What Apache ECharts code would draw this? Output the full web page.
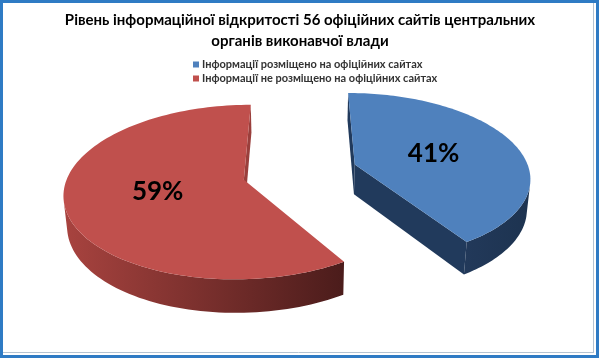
<!DOCTYPE html>
<html><head><meta charset="utf-8">
<script src="https://cdn.jsdelivr.net/npm/echarts@6/dist/echarts.min.js"></script>
<style>html,body{margin:0;padding:0;background:#fff}#c{width:600px;height:359px}</style>
</head><body><div id="c"></div>
<script>
const categories = ['Інформації розміщено на офіційних сайтах', 'Інформації не розміщено на офіційних сайтах'];
const values = [41, 59];
const labels = ['41%', '59%'];
const titleLines = ['Рівень інформаційної відкритості 56 офіційних сайтів центральних', 'органів виконавчої влади'];

const V = {X0: 300, Y0: 172, S: 175, SY: 174, sinP: 0.479, D: 6.3, explode: 0.33, thick: 0.2, labelR: 0.49};
V.cosP = Math.sqrt(1 - V.sinP * V.sinP);
const cam = [0, V.D * V.sinP, -V.D * V.cosP];
function proj(X, Y, Z) {
  const v = Z * V.sinP + Y * V.cosP;
  const w = Z * V.cosP - Y * V.sinP;
  const f = 1 + w / V.D;
  return [V.X0 + V.S * X / f, V.Y0 - V.SY * v / f];
}
const rad = d => d * Math.PI / 180;
function sliceAngles(i, val) {
  const total = values.reduce((a, b) => a + b, 0);
  let cum = 0;
  for (let k = 0; k < i; k++) cum += values[k];
  const a2 = 90 - cum / total * 360;
  const a1 = a2 - val / total * 360;
  return [a1, a2];
}
const styles = [
  {top: '#4F81BD', side: ['#22395A', '#1D3350'], cut: '#213A5C'},
  {top: '#C0504D', side: ['#A8433F', '#4B1C1B'], cut: '#9A3F3C'}
];
function makeRender(i) {
  return function (params, api) {
    const val = api.value(0);
    const [a1, a2] = sliceAngles(i, val);
    const mid = rad((a1 + a2) / 2);
    const ox = V.explode * Math.cos(mid), oz = V.explode * Math.sin(mid);
    const pt = (th, r, Y) => proj(ox + r * Math.cos(th), Y, oz + r * Math.sin(th));
    const st = styles[i];
    const children = [];
    [[a1, -1], [a2, 1]].forEach(([a, sgn]) => {
      const th = rad(a);
      const nth = th + sgn * Math.PI / 2;
      const nx = Math.cos(nth), nz = Math.sin(nth);
      const px = ox + 0.5 * Math.cos(th), pz = oz + 0.5 * Math.sin(th);
      const dot = nx * (cam[0] - px) + nz * (cam[2] - pz);
      if (dot > 0) {
        children.push({type: 'polygon', shape: {points: [pt(th, 0, 0), pt(th, 1, 0), pt(th, 1, -V.thick), pt(th, 0, -V.thick)]}, style: {fill: st.cut}});
      }
    });
    const N = 120, topArc = [], botArc = [];
    for (let k = 0; k <= N; k++) {
      const th = rad(a1 + (a2 - a1) * k / N);
      const X = ox + Math.cos(th), Z = oz + Math.sin(th);
      const dot = Math.cos(th) * (cam[0] - X) + Math.sin(th) * (cam[2] - Z);
      if (dot > 0) { topArc.push(proj(X, 0, Z)); botArc.push(proj(X, -V.thick, Z)); }
    }
    if (topArc.length > 1) {
      children.push({type: 'polygon', shape: {points: topArc.concat(botArc.slice().reverse())},
        style: {fill: new echarts.graphic.LinearGradient(0, 0, 1, 0, [{offset: 0, color: st.side[0]}, {offset: 1, color: st.side[1]}])}});
    }
    const topPts = [pt(0, 0, 0)];
    for (let k = 0; k <= N; k++) topPts.push(pt(rad(a1 + (a2 - a1) * k / N), 1, 0));
    children.push({type: 'polygon', shape: {points: topPts}, style: {fill: st.top}});
    const lp = pt(mid, V.labelR, 0);
    children.push({type: 'text', x: lp[0], y: lp[1], style: {text: labels[i], font: 'bold 26px Lato, "Open Sans", sans-serif', fill: '#000', align: 'center', verticalAlign: 'middle'}});
    return {type: 'group', children};
  };
}
const chart = echarts.init(document.getElementById('c'));
chart.setOption({
  animation: false,
  title: {text: titleLines.join('\n'), left: 'center', top: 5,
    textStyle: {fontFamily: 'Lato, "Open Sans", sans-serif', fontSize: 15, fontWeight: 'bold', color: '#000', lineHeight: 21}},
  legend: {orient: 'vertical', left: 188, top: 54, icon: 'rect', itemWidth: 6, itemHeight: 6, itemGap: 3,
    data: categories, textStyle: {fontFamily: 'Lato, "Open Sans", sans-serif', fontSize: 11, fontWeight: 'bold', color: '#333', padding: [0, 0, 0, -2]}},
  graphic: [
    {type: 'rect', shape: {x: 1.5, y: 1.5, width: 596, height: 355}, style: {fill: 'none', stroke: '#2F7BC4', lineWidth: 3}, silent: true},
    {type: 'line', shape: {x1: 593.5, y1: 3, x2: 593.5, y2: 353}, style: {stroke: '#B5C3D1', lineWidth: 1}, silent: true},
    {type: 'line', shape: {x1: 3, y1: 352.5, x2: 594, y2: 352.5}, style: {stroke: '#B5C3D1', lineWidth: 1}, silent: true}
  ],
  series: categories.map((name, i) => ({
    type: 'custom', name, coordinateSystem: 'none',
    itemStyle: {color: styles[i].top},
    data: [[values[i]]],
    renderItem: makeRender(i)
  }))
});
</script></body></html>
